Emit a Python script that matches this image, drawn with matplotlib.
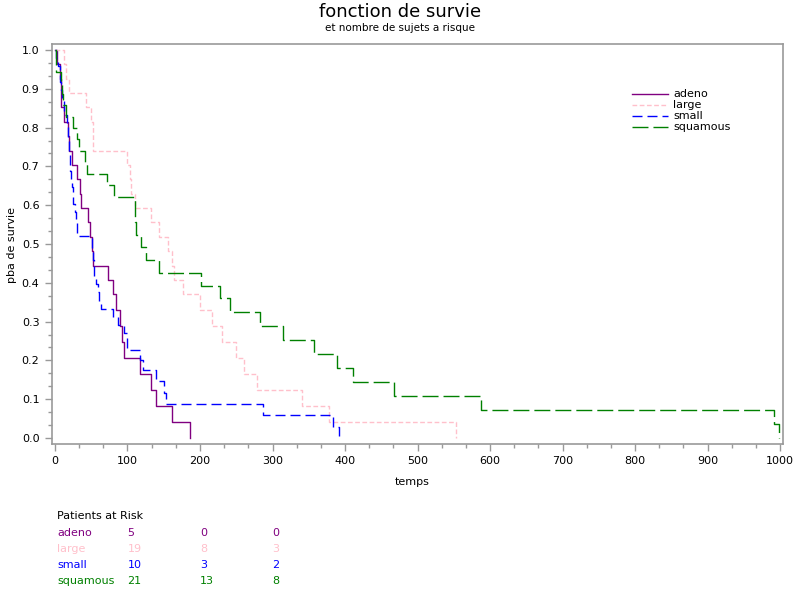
import matplotlib
matplotlib.use("Agg")
import matplotlib.pyplot as plt
from matplotlib.ticker import MultipleLocator
from matplotlib.lines import Line2D
from matplotlib.transforms import blended_transform_factory

plt.rcParams['font.family'] = ['DejaVu Sans']
plt.rcParams['lines.scale_dashes'] = False

# ---- data (step times / survival probabilities) ----
adeno_t = [0, 3, 7, 8, 12, 18, 19, 24, 31, 35, 36, 45, 48, 51, 52, 73, 80, 84, 90, 92, 95, 117, 132, 140, 162, 186]
adeno_s = [1, .9630, .9259, .8519, .8148, .7778, .7407, .7037, .6667, .6296, .5926, .5556, .5185, .4815, .4444,
           .4074, .3704, .3292, .2881, .2469, .2058, .1646, .1235, .0823, .0412, 0]

large_t = [0, 12, 15, 19, 43, 49, 52, 53, 100, 103, 105, 111, 133, 143, 156, 162, 164, 177, 200, 216, 231, 250,
           260, 278, 340, 378, 553]
large_s = [1, .9630, .9259, .8889, .8519, .8148, .7778, .7407, .7037, .6667, .6296, .5926, .5556, .5185, .4815,
           .4444, .4074, .3704, .3292, .2881, .2469, .2058, .1646, .1235, .0823, .0412, 0]

small_t = [0, 2, 4, 7, 8, 10, 13, 16, 18, 20, 21, 22, 24, 25, 27, 29, 30, 31, 51, 52, 54, 56, 59, 61, 63, 80, 87,
           95, 99, 117, 122, 139, 151, 153, 287, 384, 392]
small_s = [1, .9792, .9583, .9167, .8958, .875, .8333, .8125, .7708, .7292, .6875, .6667, .6458, .6042, .5833,
           .5625, .5417, .5208, .4792, .4583, .4167, .3958, .375, .3542, .3333, .3125, .2917, .2708, .2257, .2006,
           .1755, .1463, .1170, .0878, .0585, .0293, 0]

squam_t = [0, 1, 8, 10, 11, 15, 25, 30, 33, 42, 44, 72, 82, 110, 111, 112, 118, 126, 144, 201, 228, 242, 283, 314,
           357, 389, 411, 467, 587, 991, 999]
squam_s = [1, .9429, .9143, .8857, .8571, .8286, .8, .7704, .7407, .7111, .6815, .6519, .6222, .5895, .5567, .5240,
           .4912, .4585, .4257, .3930, .3602, .3242, .2882, .2522, .2161, .1801, .1441, .1081, .0720, .0360, 0]

groups = ["adeno", "large", "small", "squamous"]
risk_times = [100, 200, 300]
risk_adeno = [5, 0, 0]
risk_large = [19, 8, 3]
risk_small = [10, 3, 2]
risk_squam = [21, 13, 8]

colors = ["#800080", "#FFC0CB", "#0000FF", "#008000"]
dashes = [None, (3.4, 1.8), (7.2, 3.6), (11.5, 3.6)]

series = [(adeno_t, adeno_s), (large_t, large_s), (small_t, small_s), (squam_t, squam_s)]
risks = [risk_adeno, risk_large, risk_small, risk_squam]

fig = plt.figure(figsize=(8, 6), dpi=100)
ax = fig.add_axes([52 / 800, 1 - 444 / 600, (783 - 52) / 800, 400 / 600])

lw = 1.0
for (t, s), c, d in zip(series, colors, dashes):
    ln, = ax.plot(t, s, drawstyle='steps-post', color=c, lw=lw)
    if d is not None:
        ln.set_dashes(d)

ax.set_xlim(-4.1, 1004)
ax.set_ylim(-0.0155, 1.0155)
ax.xaxis.set_major_locator(MultipleLocator(100))
ax.xaxis.set_minor_locator(MultipleLocator(100 / 3))
ax.yaxis.set_major_locator(MultipleLocator(0.1))
ax.yaxis.set_minor_locator(MultipleLocator(0.1 / 3))
ax.set_yticks([i / 10 for i in range(11)])
ax.set_yticklabels([f"{i / 10:.1f}" for i in range(11)])

for sp in ax.spines.values():
    sp.set_color("#999999")
    sp.set_linewidth(1.2)
ax.tick_params(which='both', direction='out', color='#999999', width=1.0, labelsize=8, labelcolor='black')
ax.tick_params(which='major', length=5, pad=4)
ax.tick_params(which='minor', length=3)

fig.text(0.5, 1 - 12 / 600, "fonction de survie", ha='center', va='center', fontsize=13)
fig.text(0.5, 1 - 28 / 600, "et nombre de sujets a risque", ha='center', va='center', fontsize=7.5)
fig.text(412 / 800, 1 - 482 / 600, "temps", ha='center', va='center', fontsize=8)
fig.text(12 / 800, 1 - 245 / 600, "pba de survie", ha='center', va='center', fontsize=8, rotation=90)

# legend
leg_y = [94, 105, 116, 127]
for g, c, d, y in zip(groups, colors, dashes, leg_y):
    l = Line2D([632 / 800, 668 / 800], [1 - y / 600, 1 - y / 600], color=c, lw=lw, transform=fig.transFigure)
    if d is not None:
        l.set_dashes(d)
    fig.add_artist(l)
    fig.text(673 / 800, 1 - y / 600, g, ha='left', va='center', fontsize=8)

# patients at risk table
trans = blended_transform_factory(ax.transData, fig.transFigure)
fig.text(57 / 800, 1 - 516 / 600, "Patients at Risk", ha='left', va='center', fontsize=8)
row_y = [533, 549, 565, 581]
for g, c, r, y in zip(groups, colors, risks, row_y):
    fig.text(57 / 800, 1 - y / 600, g, ha='left', va='center', fontsize=8, color=c)
    for tx, v in zip(risk_times, r):
        ax.text(tx, 1 - y / 600, str(v), transform=trans, ha='left', va='center', fontsize=8, color=c,
                clip_on=False)

fig.savefig("out.png", dpi=100)
